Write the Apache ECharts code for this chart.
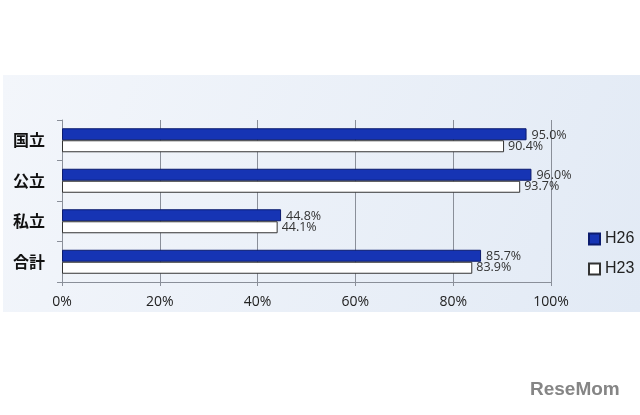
<!DOCTYPE html>
<html><head><meta charset="utf-8">
<script src="https://cdn.jsdelivr.net/npm/echarts@6/dist/echarts.min.js"></script>
<style>html,body{margin:0;padding:0;background:#fff}#c{width:640px;height:415px}</style>
</head><body><div id="c"></div>
<script>
const categories = ['国立', '公立', '私立', '合計'];
const seriesNames = ['H26', 'H23'];
const h26 = [95.0, 96.0, 44.8, 85.7];
const h23 = [90.4, 93.7, 44.1, 83.9];
const xTicks = [0, 20, 40, 60, 80, 100];

const chart = echarts.init(document.getElementById('c'), null, {renderer: 'canvas'});
const fmt = p => p.value.toFixed(1) + '%';
chart.setOption({
  backgroundColor: '#ffffff',
  animation: false,
  graphic: [
    {type: 'rect', z: -10, silent: true, shape: {x: 3, y: 75, width: 637, height: 237},
     style: {fill: new echarts.graphic.LinearGradient(0, 0, 1, 1, [
       {offset: 0, color: '#f3f6fb'}, {offset: 1, color: '#e2eaf5'}])}},
    {type: 'text', left: 530, top: 380, silent: true,
     style: {text: 'ReseMom', fill: '#858585', font: 'bold 19px "Liberation Sans"'}}
  ],
  grid: {left: 62, right: 89, top: 120, bottom: 133, containLabel: false},
  legend: {
    orient: 'vertical', left: 583, top: 225, itemWidth: 11, itemHeight: 11, itemGap: 12,
    icon: 'rect',
    textStyle: {fontSize: 16, lineHeight: 18, color: '#222', fontFamily: '"Liberation Sans", sans-serif'},
    data: seriesNames
  },
  xAxis: {
    type: 'value', min: 0, max: 100, interval: 20,
    axisLine: {show: true, lineStyle: {color: '#8a8f99'}},
    axisTick: {show: true, length: 4, lineStyle: {color: '#8a8f99'}},
    splitLine: {show: true, lineStyle: {color: '#8a8f99', width: 1}},
    axisLabel: {formatter: v => xTicks.includes(v) ? v + '%' : '', fontSize: 14, color: '#222', margin: 13,
                fontFamily: '"Open Sans", sans-serif'}
  },
  yAxis: {
    type: 'category', data: categories, inverse: true,
    axisLine: {show: true, lineStyle: {color: '#8a8f99'}},
    axisTick: {show: true, length: 5, lineStyle: {color: '#8a8f99'}},
    axisLabel: {fontSize: 16, color: '#111', fontWeight: 'bold', margin: 17,
                fontFamily: '"Noto Sans CJK JP", sans-serif'}
  },
  series: [
    {name: 'H26', type: 'bar', data: h26, barWidth: 12, barGap: '0%',
     itemStyle: {color: '#1634b4', borderColor: '#0b1b6e', borderWidth: 1},
     label: {show: true, position: 'right', formatter: fmt, fontSize: 12.5, color: '#333', distance: 5,
             offset: [0, 1], fontFamily: '"Open Sans", sans-serif'}},
    {name: 'H23', type: 'bar', data: h23, barWidth: 12, barGap: '0%',
     itemStyle: {color: '#ffffff', borderColor: '#333333', borderWidth: 1},
     label: {show: true, position: 'right', formatter: fmt, fontSize: 12.5, color: '#333', distance: 4,
             offset: [0, 0], fontFamily: '"Open Sans", sans-serif'}}
  ]
});
</script></body></html>
